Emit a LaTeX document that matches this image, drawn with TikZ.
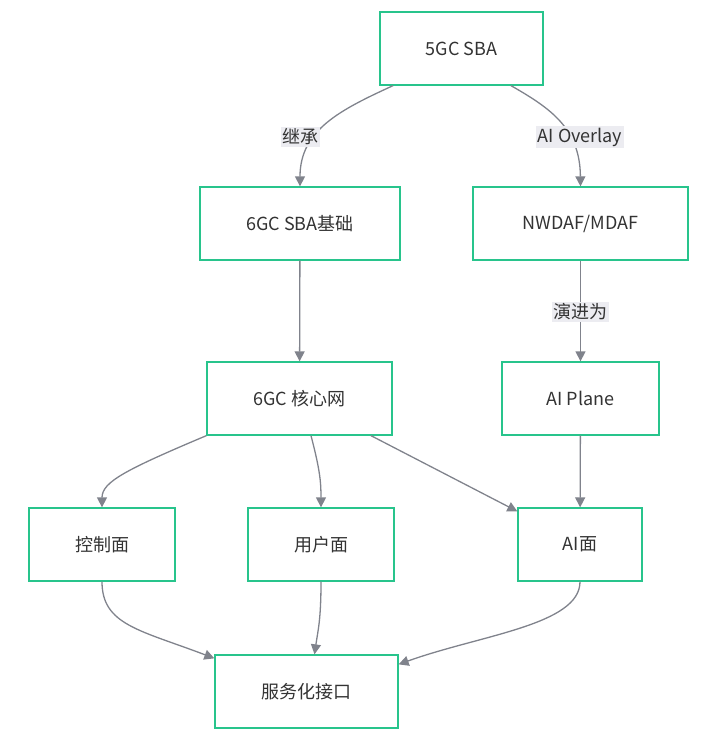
\documentclass[tikz,border=0pt]{standalone}
\usepackage{fontspec}
\setmainfont{Noto Sans CJK SC}
\usetikzlibrary{arrows.meta}

\definecolor{boxgreen}{RGB}{40,196,140}
\definecolor{edgegray}{RGB}{128,131,140}
\definecolor{labelbg}{RGB}{236,236,241}
\definecolor{txt}{RGB}{51,51,51}

\begin{document}
\begin{tikzpicture}[x=1pt,y=-1pt,>={Triangle[length=10pt,width=10pt]}]

\tikzset{box/.style={draw=boxgreen,line width=1.3pt,fill=white,text=txt,
  anchor=center,inner sep=0pt,font=\fontsize{18}{21}\selectfont}}
\tikzset{edge/.style={draw=edgegray,line width=1.3pt,->}}
\tikzset{elabel/.style={fill=labelbg,text=txt,inner sep=1.5pt,
  font=\fontsize{18}{21}\selectfont}}

\useasboundingbox (0,0) rectangle (710,742);

%top
\node[box,minimum width=163pt,minimum height=73pt] (sba5) at (461.5,48.5) {5GC SBA};

%second row
\node[box,minimum width=200pt,minimum height=73pt] (sba6) at (300,223.5) {6GC SBA基础};
\node[box,minimum width=215pt,minimum height=73pt] (nwdaf) at (580.5,223.5) {NWDAF/MDAF};

%third row
\node[box,minimum width=185pt,minimum height=73pt] (core) at (299.5,398.5) {6GC 核心网};
\node[box,minimum width=157pt,minimum height=73pt] (aiplane) at (580.5,398.5) {AI Plane};

%planes
\node[box,minimum width=146pt,minimum height=73pt] (cp) at (102,544.5) {控制面};
\node[box,minimum width=146pt,minimum height=73pt] (up) at (321,544.5) {用户面};
\node[box,minimum width=124pt,minimum height=73pt] (aip) at (580,544.5) {AI面};

%bottom
\node[box,minimum width=183pt,minimum height=73pt] (sbi) at (306.5,691.5) {服务化接口};

%5GC to 6GC
\draw[edge] ([xshift=-68.5pt]sba5.south) .. controls (340,110) and (300,130) .. (sba6.north);
\node[elabel] (inherit) at (300,137) {继承};

%5GC to NWDAF
\draw[edge] ([xshift=49.5pt]sba5.south) .. controls (550,108) and (580,128) .. (nwdaf.north);
\node[elabel] (overlay) at (580,137) {AI Overlay};

%straight ones
\draw[edge] (sba6) -- (core);
\draw[edge] (nwdaf) -- (aiplane);
\node[elabel] (evolve) at (580.5,312) {演进为};
\draw[edge] (aiplane) -- (aip);

%core to planes
\draw[edge] (core.south west) .. controls (125,470) and (102,482) .. (cp.north);
\draw[edge] ([xshift=11.5pt]core.south) .. controls (320,470) and (321,482) .. (up.north);
\draw[edge] ([xshift=71.5pt]core.south) -- ([yshift=-4pt]aip.north west);

%planes to interface
\draw[edge] (cp.south) .. controls (102,625) and (140,630) .. ([yshift=-4pt]sbi.north west);
\draw[edge] (up.south) .. controls (321,620) and (318,630) .. ([xshift=8pt]sbi.north);
\draw[edge] (aip.south) .. controls (580,625) and (480,635) .. ([yshift=-10pt]sbi.north east);

\end{tikzpicture}
\end{document}
